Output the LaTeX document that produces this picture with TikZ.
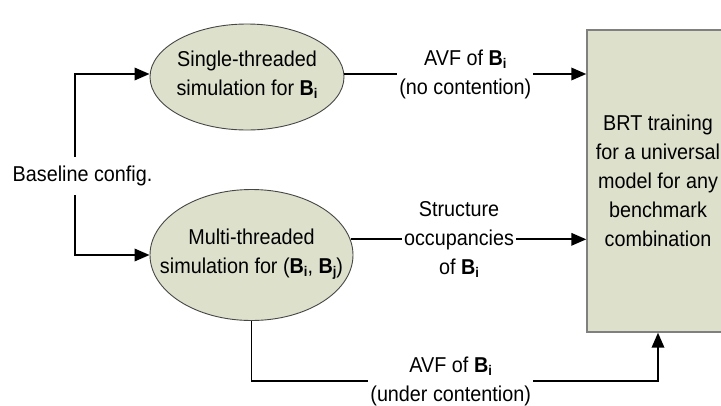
\documentclass[tikz,border=0pt]{standalone}
\usepackage{fontspec}
\setmainfont{Liberation Sans}[FakeStretch=0.92]
\usetikzlibrary{shapes.geometric,arrows.meta}
\definecolor{olivefill}{RGB}{221,224,202}
\definecolor{edgegray}{RGB}{70,70,70}
\newcommand{\Bsub}[1]{\textbf{B}\raisebox{-3pt}{\fontsize{14}{14}\selectfont\textbf{#1}}}
\tikzset{
  txt/.style={font=\fontsize{21.5}{29}\selectfont, align=center, inner sep=0pt},
  blob/.style={ellipse, draw=edgegray, line width=0.9pt, fill=olivefill, inner sep=0pt},
  trainbox/.style={rectangle, draw=gray, line width=1.4pt, fill=olivefill, inner sep=0pt},
  lbl/.style={txt, fill=white, inner xsep=2pt, inner ysep=1pt},
  arr/.style={line width=1.9pt, -{Triangle[length=15pt,width=12.5pt]}},
  conn/.style={line width=1.9pt}
}
\begin{document}
\begin{tikzpicture}[x=1pt,y=-1pt]
\useasboundingbox (0,0) rectangle (721,405);
\clip (0,0) rectangle (721,405);
% shapes
\node[blob, minimum width=194pt, minimum height=106pt] (e1) at (247,77) {};
\node[txt] (t1) at (247,75) {Single-threaded\\simulation for \Bsub{i}};
\node[blob, minimum width=203pt, minimum height=131pt] (e2) at (251.5,255) {};
\node[txt] (t2) at (251.5,254) {Multi-threaded\\simulation for (\Bsub{i}, \Bsub{j})};
\node[trainbox, minimum width=142pt, minimum height=302pt] (box) at (658,181) {};
\node[txt] (t3) at (658,181) {BRT training\\for a universal\\model for any\\benchmark\\combination};
\node[txt, inner xsep=0pt, inner ysep=9pt] (base) at (82.5,176) {Baseline config.};
% connectors
\draw[arr] ([xshift=-7.5pt]base.north) |- ([yshift=3pt]e1.west);
\draw[arr] ([xshift=-7.5pt]base.south) |- (e2.west);
\draw[arr] ([yshift=3pt]e1.east) -- ([yshift=3pt]e1.east -| box.west)
  node[lbl, midway] (l1) {AVF of \Bsub{i}\\(no contention)};
\draw[arr] (e2.9) -- (e2.9 -| box.west)
  node[lbl, pos=0.46] (l2) {Structure\\occupancies\\of \Bsub{i}};
\draw[arr] (e2.south) -- ++(0,60) -| (box.south)
  node[lbl, pos=0.245] (l3) {AVF of \Bsub{i}\\(under contention)};
\end{tikzpicture}
\end{document}
